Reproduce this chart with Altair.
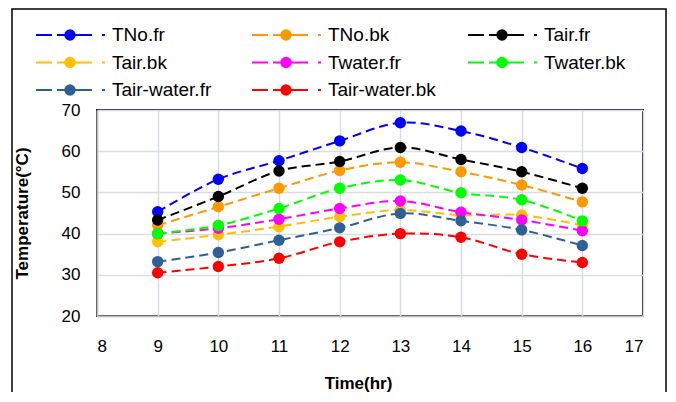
import altair as alt
import pandas as pd

hours = [9, 10, 11, 12, 13, 14, 15, 16]
series_names = ["TNo.fr", "TNo.bk", "Tair.fr", "Tair.bk", "Twater.fr", "Twater.bk",
                "Tair-water.fr", "Tair-water.bk"]
series_colors = ["#0000FF", "#FF9900", "#000000", "#FFC000", "#FF00FF", "#00FF00",
                 "#2E6096", "#FF0000"]

tno_fr = [45.3, 53.2, 57.7, 62.5, 66.9, 64.9, 60.9, 55.8]
tno_bk = [42.0, 46.5, 51.0, 55.3, 57.3, 55.0, 51.8, 47.7]
tair_fr = [43.3, 49.0, 55.2, 57.5, 60.9, 58.0, 55.0, 51.0]
tair_bk = [38.0, 39.7, 41.7, 44.1, 45.7, 44.5, 44.5, 42.0]
twater_fr = [40.0, 41.3, 43.5, 46.1, 47.9, 45.2, 43.3, 40.7]
twater_bk = [40.0, 42.0, 46.1, 51.0, 53.0, 49.9, 48.2, 43.1]
tairwater_fr = [33.2, 35.4, 38.4, 41.4, 44.9, 43.1, 40.9, 37.1]
tairwater_bk = [30.5, 32.0, 34.0, 38.0, 40.0, 39.1, 35.0, 33.0]

x_ticks = [8, 9, 10, 11, 12, 13, 14, 15, 16, 17]
y_ticks = [20, 30, 40, 50, 60, 70]

all_series = [tno_fr, tno_bk, tair_fr, tair_bk, twater_fr, twater_bk, tairwater_fr, tairwater_bk]
rows = []
for name, vals in zip(series_names, all_series):
    for h, v in zip(hours, vals):
        rows.append({"series": name, "hour": h, "temp": v})
df = pd.DataFrame(rows)

# legend entries laid out in 3 columns (grid cell indices)
leg_df = pd.DataFrame({
    "series": series_names,
    "col": [i % 3 for i in range(len(series_names))],
    "row": [i // 3 for i in range(len(series_names))],
})

FONT = "Liberation Sans"

scale_c = alt.Scale(domain=series_names, range=series_colors)

x_enc = alt.X("hour:Q", scale=alt.Scale(domain=[8, 17], nice=False, zero=False),
              axis=alt.Axis(values=x_ticks, title="Time(hr)", titleX=261, titleY=67,
                            titleBaseline="middle", labelPadding=22))
y_enc = alt.Y("temp:Q", scale=alt.Scale(domain=[20, 70], nice=False, zero=False),
              axis=alt.Axis(values=y_ticks, title="Temperature(°C)", titleX=-75, titleY=103,
                            titleBaseline="middle", labelPadding=17))

lines = alt.Chart(df).mark_line(strokeDash=[9, 5], strokeWidth=2, interpolate="catmull-rom").encode(
    x=x_enc, y=y_enc,
    color=alt.Color("series:N", scale=scale_c, legend=None),
)

points = alt.Chart(df).mark_point(size=130, strokeWidth=1, opacity=1, filled=True).encode(
    x=x_enc, y=y_enc,
    color=alt.Color("series:N", scale=scale_c, legend=None),
)

data_layer = alt.layer(lines, points)

# hand-built legend (Excel style: dashed line with a marker)
lx = alt.X("col:Q", scale=alt.Scale(domain=[0, 2], range=[-27, 405], nice=False, zero=False),
           axis=None)
lx2 = alt.X2("col:Q")
ly = alt.Y("row:Q", scale=alt.Scale(domain=[0, 2], range=[-75, -20], nice=False, zero=False),
           axis=None)
lcol = alt.Color("series:N", scale=scale_c, legend=None)

leg_line = alt.Chart(leg_df).mark_rule(strokeWidth=2, xOffset=-34, x2Offset=35,
                                       strokeDash=[16, 5, 35, 10, 3, 100]).encode(
    x=lx, x2=lx2, y=ly, color=lcol)
leg_point = alt.Chart(leg_df).mark_point(size=130, filled=True, opacity=1, strokeWidth=1).encode(
    x=lx, y=ly, color=lcol)
leg_text = alt.Chart(leg_df).mark_text(align="left", baseline="middle", dx=42, font=FONT,
                                       fontSize=19, color="#000000").encode(
    x=lx, y=ly, text="series:N")

legend_layer = alt.layer(leg_line, leg_point, leg_text)

frame = alt.Chart(pd.DataFrame({"k": [0]})).mark_rect(fill="transparent", stroke="#000000",
                                                        strokeWidth=1.5).encode(
    x=alt.value(-85), x2=alt.value(569), y=alt.value(-101), y2=alt.value(300)
)

chart = alt.layer(data_layer, legend_layer, frame).resolve_scale(
    x="independent", y="independent"
).properties(
    width=546, height=206,
    autosize=alt.AutoSizeParams(type="none"),
    padding={"left": 89, "top": 102, "right": 25, "bottom": 76},
).configure_axis(
    labelFont=FONT, labelFontSize=17, labelColor="#000000",
    titleFont=FONT, titleFontSize=17, titleFontWeight="bold", titleColor="#000000",
    grid=True, gridColor="#D9DDE3", gridWidth=1.5,
    domainColor="#BFBFBF", domainWidth=1.5, ticks=False,
).configure_view(
    stroke="#1A1A1A", strokeWidth=2
)

chart.save("out.html", embed_options={"renderer": "svg", "actions": False})
